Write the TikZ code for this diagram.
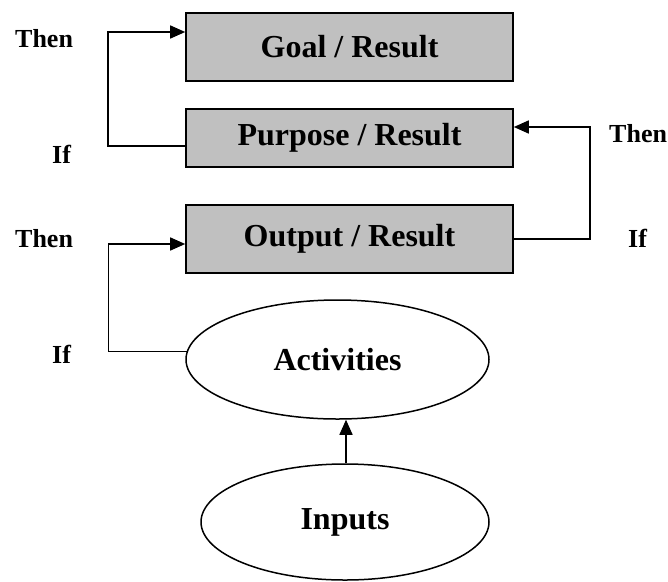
\documentclass[tikz,border=0pt]{standalone}
\usepackage{fontspec}
\setmainfont{Liberation Serif}
\usetikzlibrary{arrows.meta,shapes.geometric}
\definecolor{boxgray}{HTML}{C0C0C0}
\tikzset{
  resbox/.style={draw=black,line width=1.6pt,fill=boxgray,rectangle,minimum width=327pt,inner sep=0pt,font=\fontsize{32}{38}\selectfont\bfseries},
  ovalnode/.style={draw=black,line width=1.5pt,ellipse,inner sep=0pt,font=\fontsize{32}{38}\selectfont\bfseries},
  lbl/.style={inner sep=0pt,anchor=base west,font=\fontsize{26}{30}\selectfont\bfseries},
  conn/.style={line width=1.5pt},
  arr/.style={conn,-{Triangle[length=15pt,width=13pt]}}
}
\begin{document}
\begin{tikzpicture}[x=1pt,y=-1pt]
\useasboundingbox (0,0) rectangle (668,581);
\node[resbox,minimum height=68pt] (goal) at (349.5,47) {Goal / Result};
\node[resbox,minimum height=58pt] (purpose) at (349.5,138) {Purpose / Result};
\node[resbox,minimum height=68pt] (output) at (349.5,239) {Output / Result};
\node[ovalnode,minimum width=303pt,minimum height=119pt] (act) at (337.5,359.5) {Activities};
\node[ovalnode,minimum width=288pt,minimum height=116pt] (inputs) at (345,522) {Inputs};
\node[lbl] (then1) at (15,47) {Then};
\node[lbl] (if1) at (52,163) {If};
\node[lbl] (then2) at (15,247) {Then};
\node[lbl] (if2) at (52,363) {If};
\node[lbl] (then3) at (609,142) {Then};
\node[lbl] (if3) at (628,247) {If};
\draw[arr] ([yshift=-8pt]purpose.west) -- ++(-77,0) |- ([yshift=15pt]goal.west);
\draw[arr] (output.east) -- ++(76,0) |- ([yshift=11pt]purpose.east);
\draw[arr] (act.177) -- ++(-78,0) |- ([yshift=-5pt]output.west);
\draw[arr] ([xshift=1pt]inputs.north) -- ([xshift=1pt]inputs.north |- act.south);
\end{tikzpicture}
\end{document}
